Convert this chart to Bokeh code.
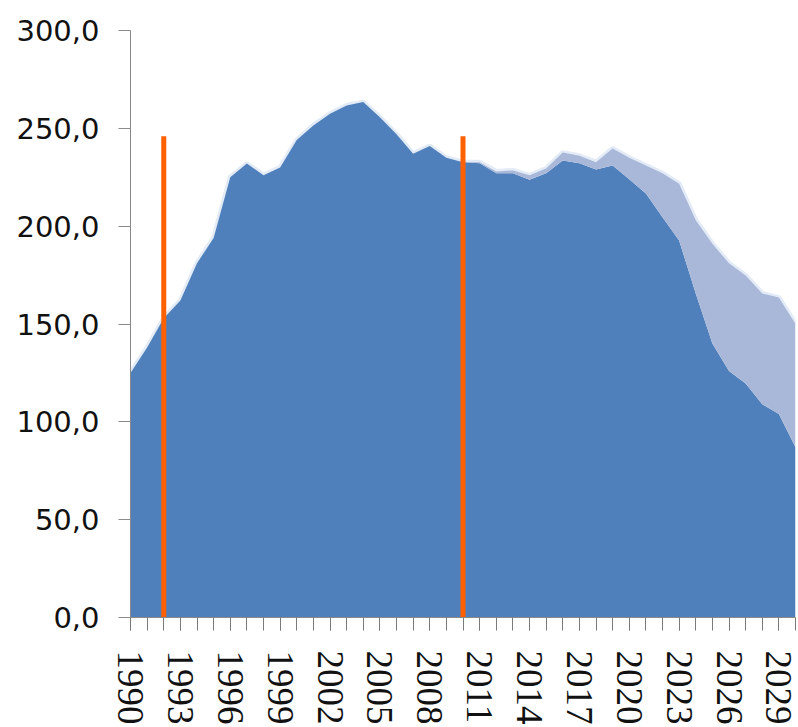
from bokeh.plotting import figure
from bokeh.models import ColumnDataSource, Range1d, FixedTicker
from bokeh.embed import file_html
from bokeh.resources import INLINE

years = list(range(1990, 2031))
base = [125, 138, 153, 162, 181, 194, 225, 232, 226, 230,
        244, 251.5, 257.5, 261.7, 263.4, 255.7, 247, 237, 241, 235,
        232.7, 232.2, 227, 227, 223.7, 227, 233.6, 232.2, 229, 231,
        224, 216.7, 204.6, 192.7, 165.6, 140, 126, 119.6, 109, 104,
        87]
extra = [0, 0, 0, 0, 0, 0, 0, 0, 0, 0,
         0, 0, 0, 0, 0, 0, 0, 0, 0, 0,
         0, 0.5, 1, 1.5, 2.3, 2.5, 4, 3.8, 3.7, 8.7,
         11, 14.3, 22.4, 29, 37.4, 51, 55, 55.2, 56.6, 59.5,
         63]
total = [b + e for b, e in zip(base, extra)]

marker_years = [1992, 2010]
marker_top = [246, 246]

y_ticks = [0, 50, 100, 150, 200, 250, 300]
y_tick_labels = ["0,0", "50,0", "100,0", "150,0", "200,0", "250,0", "300,0"]
x_label_years = list(range(1990, 2030, 3))

source = ColumnDataSource(dict(year=years, base=base, extra=extra, total=total))

p = figure(width=798, height=727, output_backend="svg", toolbar_location=None,
           x_range=Range1d(1990, 2030), y_range=Range1d(0, 300),
           min_border_left=130, min_border_right=3, min_border_top=30,
           min_border_bottom=110)
p.outline_line_color = None
p.xgrid.grid_line_color = None
p.ygrid.grid_line_color = None
p.background_fill_color = "white"
p.border_fill_color = "white"

# soft glow along top edge
p.line(x="year", y="total", source=source, line_color="#e3ebf6", line_width=5)
p.varea_stack(["base", "extra"], x="year", source=source,
              color=["#4f80bc", "#a9b8d8"])

p.segment(x0=marker_years, y0=[0, 0], x1=marker_years, y1=marker_top,
          line_color="#ff6000", line_width=5, line_cap="butt")

# y axis
p.yaxis.ticker = FixedTicker(ticks=y_ticks, minor_ticks=[])
p.yaxis.major_label_overrides = {t: l for t, l in zip(y_ticks, y_tick_labels)}
p.yaxis.major_label_text_font = "DejaVu Sans"
p.yaxis.major_label_text_font_size = "29px"
p.yaxis.major_label_text_color = "#111111"
p.yaxis.major_tick_out = 12
p.yaxis.major_tick_in = 0
p.yaxis.major_label_standoff = 19
p.yaxis.axis_line_color = "#8a8a8a"
p.yaxis.major_tick_line_color = "#8a8a8a"

# x axis
p.xaxis.ticker = FixedTicker(ticks=x_label_years, minor_ticks=years)
p.xaxis.major_label_overrides = {y: str(y) for y in x_label_years}
p.xaxis.major_label_orientation = "vertical"
p.xaxis.major_label_text_font = "Liberation Serif"
p.xaxis.major_label_text_font_size = "37px"
p.xaxis.major_label_text_color = "#111111"
p.xaxis.major_tick_out = 13
p.xaxis.major_tick_in = 0
p.xaxis.minor_tick_out = 13
p.xaxis.minor_tick_in = 0
p.xaxis.major_label_standoff = 20
p.xaxis.axis_line_color = "#8a8a8a"
p.xaxis.major_tick_line_color = "#7a7a7a"
p.xaxis.minor_tick_line_color = "#7a7a7a"

open("out.html", "w").write(file_html(p, INLINE))
